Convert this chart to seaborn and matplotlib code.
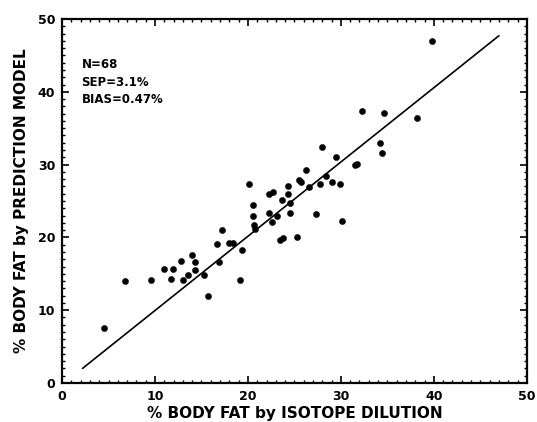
import numpy as np
import pandas as pd
import matplotlib
matplotlib.use("Agg")
import matplotlib.pyplot as plt
from matplotlib.ticker import MultipleLocator
import seaborn as sns

# % body fat: isotope dilution (x) vs prediction model (y)
isotope = [4.55, 6.75, 9.6, 11.0, 11.9, 11.75, 12.75, 13.0, 13.5, 14.0,
           14.3, 14.3, 15.3, 15.75, 16.7, 16.9, 17.2, 18.0, 18.4, 19.1,
           19.4, 20.1, 20.5, 20.5, 20.6, 20.8, 22.3, 22.7, 22.3, 22.6,
           23.1, 23.7, 24.3, 24.3, 24.5, 24.5, 23.4, 23.8, 25.3, 25.7,
           25.5, 26.3, 26.6, 27.8, 28.4, 28.0, 29.0, 29.9, 29.5, 31.5,
           31.7, 27.3, 30.1, 32.3, 34.6, 38.2, 34.2, 34.4, 39.85]
predicted = [7.6, 14.0, 14.2, 15.7, 15.7, 14.3, 16.7, 14.1, 14.8, 17.6,
             16.6, 15.5, 14.8, 12.0, 19.1, 16.6, 21.0, 19.2, 19.2, 14.1,
             18.3, 27.4, 24.4, 23.0, 21.7, 21.1, 26.0, 26.2, 23.3, 22.1,
             22.9, 25.1, 27.1, 26.0, 24.7, 23.4, 19.6, 19.9, 20.0, 27.6,
             27.9, 29.2, 26.9, 27.4, 28.5, 32.4, 27.6, 27.3, 31.1, 29.9,
             30.1, 23.2, 22.2, 37.4, 37.1, 36.4, 33.0, 31.6, 47.0]

line_x = [2.2, 47.0]
line_y = [2.0, 47.7]

stats = ["N=68", "SEP=3.1%", "BIAS=0.47%"]

df = pd.DataFrame({"iso": isotope, "pred": predicted})
ln = pd.DataFrame({"x": line_x, "y": line_y})

sns.set_style("ticks")
plt.rcParams["font.family"] = ["DejaVu Sans"]
plt.rcParams["font.weight"] = "bold"
plt.rcParams["text.color"] = "black"
plt.rcParams["axes.labelcolor"] = "black"
plt.rcParams["xtick.color"] = "black"
plt.rcParams["ytick.color"] = "black"

fig = plt.figure(figsize=(5.37, 4.22), dpi=100)
ax = fig.add_axes([0.1155, 0.0924, 0.8655, 0.8626])

sns.lineplot(data=ln, x="x", y="y", color="black", linewidth=1.2, ax=ax)
sns.scatterplot(data=df, x="iso", y="pred", color="black", s=20,
                edgecolor="black", linewidth=0.3, ax=ax)

ax.set_xlim(0, 50)
ax.set_ylim(0, 50)
ax.xaxis.set_major_locator(MultipleLocator(10))
ax.yaxis.set_major_locator(MultipleLocator(10))
ax.xaxis.set_minor_locator(MultipleLocator(1))
ax.yaxis.set_minor_locator(MultipleLocator(1))
ax.tick_params(which="major", direction="in", length=5, width=1.2,
               top=True, right=True, labelsize=9, pad=5)
ax.tick_params(which="minor", direction="in", length=2.5, width=1,
               top=True, right=True)
for lab in ax.get_xticklabels() + ax.get_yticklabels():
    lab.set_fontweight("bold")
for sp in ax.spines.values():
    sp.set_linewidth(1.6)
    sp.set_color("black")

ax.set_xlabel("% BODY FAT by ISOTOPE DILUTION", fontsize=11,
              fontweight="bold", labelpad=2)
ax.set_ylabel("% BODY FAT by PREDICTION MODEL", fontsize=11,
              fontweight="bold", labelpad=6)

for i, s in enumerate(stats):
    ax.text(2.1, 43.7 - i * 2.4, s, fontsize=8.5, fontweight="bold",
            va="center", ha="left")

fig.savefig("out.png", dpi=100)
